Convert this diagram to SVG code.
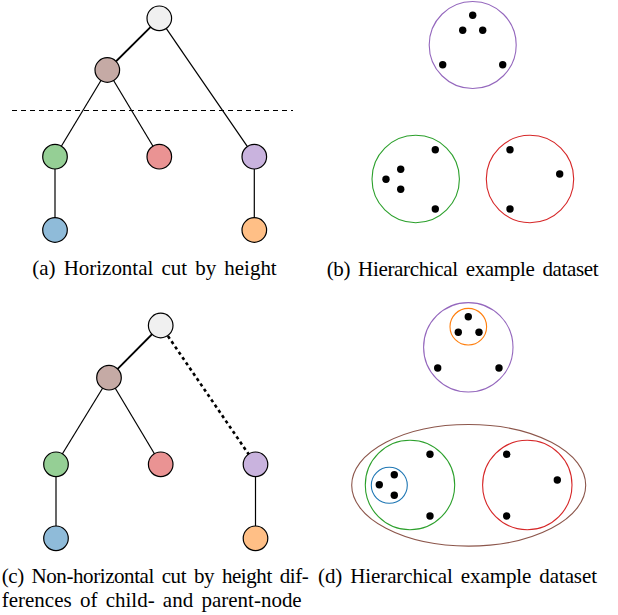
<svg xmlns="http://www.w3.org/2000/svg" width="618" height="615" viewBox="0 0 618 615">
<style>
.node{stroke:#000;stroke-width:1.2}
.edge{stroke:#000;stroke-width:1.2;fill:none}
.thick{stroke-width:1.8}
.dotted{stroke-width:2.6;stroke-dasharray:3.2 3.2}
.dashed{stroke-width:1.2;stroke-dasharray:5 4}
.dot{fill:#000}
.clu{fill:none;stroke-width:1.1}
.cap{font-family:"Liberation Serif","Times New Roman",serif;font-size:21px;fill:#000;word-spacing:3px}
</style>
<rect width="618" height="615" fill="#fff"/>
<!-- Panel (a) -->
<g id="connectors-a">
<line class="edge thick" x1="159.3" y1="18.3" x2="107.3" y2="70"/>
<line class="edge" x1="159.3" y1="18.3" x2="254.3" y2="156.7"/>
<line class="edge" x1="107.3" y1="70" x2="55" y2="156.7"/>
<line class="edge" x1="107.3" y1="70" x2="159.3" y2="156.7"/>
<line class="edge" x1="55" y1="156.7" x2="55" y2="230"/>
<line class="edge" x1="254.3" y1="156.7" x2="254.3" y2="230"/>
<line class="edge dashed" x1="12" y1="110.5" x2="293" y2="110.5"/>
</g>
<g id="a-root"><circle class="node" cx="159.3" cy="18.3" r="12.3" fill="#f0f0f0"/></g>
<g id="a-brown"><circle class="node" cx="107.3" cy="70" r="12.3" fill="#c5aaa5"/></g>
<g id="a-green"><circle class="node" cx="55" cy="156.7" r="12.3" fill="#95cf95"/></g>
<g id="a-red"><circle class="node" cx="159.3" cy="156.7" r="12.3" fill="#ea9393"/></g>
<g id="a-purple"><circle class="node" cx="254.3" cy="156.7" r="12.3" fill="#c9b3de"/></g>
<g id="a-blue"><circle class="node" cx="55" cy="230" r="12.3" fill="#8fbbd9"/></g>
<g id="a-orange"><circle class="node" cx="254.3" cy="230" r="12.3" fill="#ffbf86"/></g>
<text class="cap" x="32.3" y="275" textLength="244.4" lengthAdjust="spacing">(a) Horizontal cut by height</text>

<!-- Panel (b) -->
<g id="b-purple">
<circle class="clu" cx="472.7" cy="45" r="43.5" stroke="#9467bd"/>
<circle class="dot" cx="472.7" cy="15.3" r="3.7"/>
<circle class="dot" cx="462.7" cy="30.3" r="3.7"/>
<circle class="dot" cx="482.7" cy="30.3" r="3.7"/>
<circle class="dot" cx="442.7" cy="64.7" r="3.7"/>
<circle class="dot" cx="502.7" cy="64.7" r="3.7"/>
</g>
<g id="b-green">
<circle class="clu" cx="415.7" cy="179" r="43.7" stroke="#2ca02c"/>
<circle class="dot" cx="435.3" cy="149.7" r="3.7"/>
<circle class="dot" cx="400.7" cy="169.3" r="3.7"/>
<circle class="dot" cx="386" cy="179.3" r="3.7"/>
<circle class="dot" cx="400.7" cy="189.3" r="3.7"/>
<circle class="dot" cx="435.3" cy="209" r="3.7"/>
</g>
<g id="b-red">
<circle class="clu" cx="530" cy="179" r="43.7" stroke="#d62728"/>
<circle class="dot" cx="510" cy="149.7" r="3.7"/>
<circle class="dot" cx="559.7" cy="174" r="3.7"/>
<circle class="dot" cx="510" cy="209" r="3.7"/>
</g>
<text class="cap" x="326.7" y="276" textLength="272" lengthAdjust="spacing">(b) Hierarchical example dataset</text>

<!-- Panel (c) -->
<g id="connectors-c">
<line class="edge thick" x1="160.7" y1="325.5" x2="109" y2="377.7"/>
<line class="edge" x1="109" y1="377.7" x2="56" y2="464.3"/>
<line class="edge" x1="109" y1="377.7" x2="160.7" y2="464.3"/>
<line class="edge" x1="56" y1="464.3" x2="56" y2="538.3"/>
<line class="edge" x1="255.5" y1="464.3" x2="255.5" y2="538.3"/>
<line class="edge dotted" x1="160.7" y1="325.5" x2="255.5" y2="464.3"/>
</g>
<g id="c-root"><circle class="node" cx="160.7" cy="325.5" r="12.3" fill="#f0f0f0"/></g>
<g id="c-brown"><circle class="node" cx="109" cy="377.7" r="12.3" fill="#c5aaa5"/></g>
<g id="c-green"><circle class="node" cx="56" cy="464.3" r="12.3" fill="#95cf95"/></g>
<g id="c-red"><circle class="node" cx="160.7" cy="464.3" r="12.3" fill="#ea9393"/></g>
<g id="c-purple"><circle class="node" cx="255.5" cy="464.3" r="12.3" fill="#c9b3de"/></g>
<g id="c-blue"><circle class="node" cx="56" cy="538.3" r="12.3" fill="#8fbbd9"/></g>
<g id="c-orange"><circle class="node" cx="255.5" cy="538.3" r="12.3" fill="#ffbf86"/></g>
<text class="cap" x="1.7" y="582.5" textLength="307" lengthAdjust="spacing">(c) Non-horizontal cut by height dif-</text>
<text class="cap" x="1.7" y="606.5" textLength="300" lengthAdjust="spacing">ferences of child- and parent-node</text>

<!-- Panel (d) -->
<g id="d-purple">
<circle class="clu" cx="468.3" cy="347.3" r="44.7" stroke="#9467bd"/>
<circle class="dot" cx="437.7" cy="368" r="3.7"/>
<circle class="dot" cx="499" cy="368" r="3.7"/>
</g>
<g id="d-orange">
<circle class="clu" cx="468.3" cy="326.7" r="18.3" stroke="#ff7f0e"/>
<circle class="dot" cx="468.3" cy="316.7" r="3.7"/>
<circle class="dot" cx="458.3" cy="332.3" r="3.7"/>
<circle class="dot" cx="479" cy="332.3" r="3.7"/>
</g>
<g id="d-brown">
<ellipse class="clu" cx="468.7" cy="485.3" rx="117" ry="60.8" stroke="#8c564b"/>
</g>
<g id="d-green">
<circle class="clu" cx="410" cy="485" r="44.7" stroke="#2ca02c"/>
<circle class="dot" cx="430" cy="454.3" r="3.7"/>
<circle class="dot" cx="430" cy="516" r="3.7"/>
</g>
<g id="d-blue">
<circle class="clu" cx="389.3" cy="485.3" r="18" stroke="#1f77b4"/>
<circle class="dot" cx="394.3" cy="474.7" r="3.7"/>
<circle class="dot" cx="379.3" cy="484.7" r="3.7"/>
<circle class="dot" cx="394.3" cy="495.3" r="3.7"/>
</g>
<g id="d-red">
<circle class="clu" cx="527.3" cy="485" r="44.7" stroke="#d62728"/>
<circle class="dot" cx="506.7" cy="454.3" r="3.7"/>
<circle class="dot" cx="557.3" cy="480" r="3.7"/>
<circle class="dot" cx="506.7" cy="516" r="3.7"/>
</g>
<text class="cap" x="318" y="582.5" textLength="279" lengthAdjust="spacing">(d) Hierarchical example dataset</text>
</svg>
